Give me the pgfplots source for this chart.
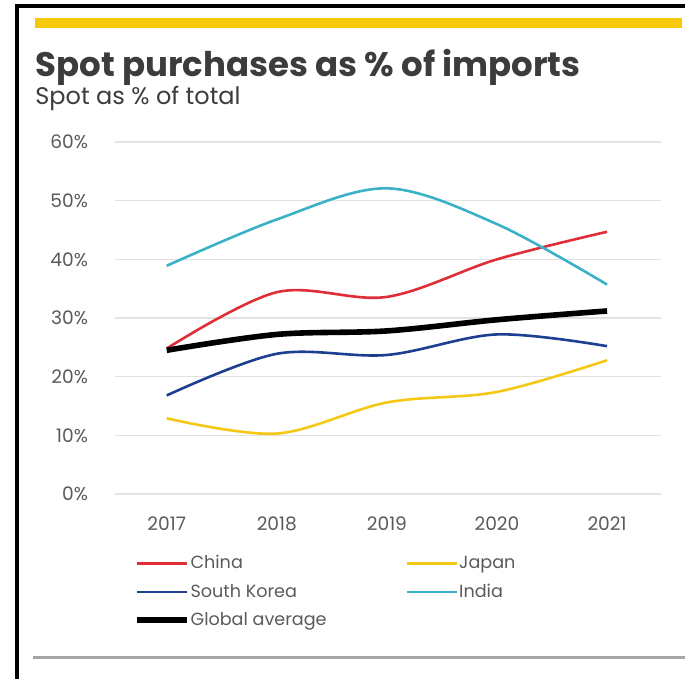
\documentclass[border=0pt]{standalone}
\usepackage{fontspec}
\setmainfont{Poppins}
\usepackage{pgfplots}
\pgfplotsset{compat=1.18}

\definecolor{shellyellow}{HTML}{F7C90C}
\definecolor{txtgray}{HTML}{3C3C3C}
\definecolor{tickgray}{HTML}{5A5A5A}
\definecolor{gridgray}{HTML}{E2E2E2}
\definecolor{cChina}{HTML}{DF2E38}
\definecolor{cJapan}{HTML}{F5C816}
\definecolor{cKorea}{HTML}{1D3F91}
\definecolor{cIndia}{HTML}{3BB1C8}

\begin{document}
\begin{tikzpicture}[x=0.5pt, y=0.5pt]
  % page = 685 x 679 px, y measured from the bottom
  \useasboundingbox (0,0) rectangle (685,679);
  \draw[black, line width=1.6pt] (17,0) -- (17,673) -- (686,673);
  \fill[shellyellow] (35,651) rectangle (682,661);
  \draw[gray!70, line width=1.5pt] (33,21) -- (686,21);

  \node[anchor=base west, inner sep=0pt, text=txtgray,
        font=\fontsize{17}{20}\selectfont\bfseries] at (35,602)
        {Spot purchases as \% of imports};
  \node[anchor=base west, inner sep=0pt, text=txtgray,
        font=\fontsize{12}{14}\selectfont] at (35,574)
        {Spot as \% of total};

  \coordinate (plotorigin) at (115,185);
  \begin{axis}[
    at={(plotorigin)}, anchor=south west,
    scale only axis,
    width=273pt, height=176pt,
    xmin=2016.53, xmax=2021.49,
    ymin=0, ymax=60,
    xtick={2017,2018,2019,2020,2021},
    ytick={0,10,20,30,40,50,60},
    axis line style={draw=none},
    major tick length=0pt,
    ymajorgrids,
    grid style={gridgray, line width=0.6pt},
    /pgf/number format/assume math mode=true,
    xticklabel style={/pgf/number format/1000 sep={}, text=tickgray,
      font=\fontsize{9.3}{11}\selectfont, yshift=-8pt},
    yticklabel={\pgfmathprintnumber{\tick}\%},
    yticklabel style={text=tickgray, font=\fontsize{9.3}{11}\selectfont,
      anchor=east, xshift=-10pt},
    every axis plot/.style={smooth, tension=0.55, no markers},
    legend columns=2,
    legend cell align=left,
    legend image code/.code={\draw[#1] (0pt,0pt) -- (25pt,0pt);},
    legend style={draw=none, fill=none, at={(0.034,-0.165)}, anchor=north west,
      font=\fontsize{8.8}{10.5}\selectfont, text=tickgray,
      row sep=3pt, inner sep=0pt,
      nodes={inner xsep=0.5pt, inner ysep=1.5pt},
      /tikz/every even column/.append style={column sep=39pt}},
  ]
    % China
    \addplot[cChina, line width=1.3pt] coordinates {
      (2017,24.8) (2018,34.4) (2019,33.6) (2020,40.0) (2021,44.7)};
    % Japan
    \addplot[cJapan, line width=1.3pt] coordinates {
      (2017,12.9) (2018,10.3) (2019,15.6) (2020,17.4) (2021,22.8)};
    % South Korea
    \addplot[cKorea, line width=1.3pt] coordinates {
      (2017,16.8) (2018,23.9) (2019,23.7) (2020,27.2) (2021,25.2)};
    % India
    \addplot[cIndia, line width=1.3pt] coordinates {
      (2017,38.9) (2018,46.8) (2019,52.1) (2020,46.0) (2021,35.7)};
    % Global average
    \addplot[black, line width=2.8pt] coordinates {
      (2017,24.5) (2018,27.2) (2019,27.8) (2020,29.7) (2021,31.2)};
    \legend{China, Japan, South Korea, India, Global average}
  \end{axis}
\end{tikzpicture}
\end{document}
